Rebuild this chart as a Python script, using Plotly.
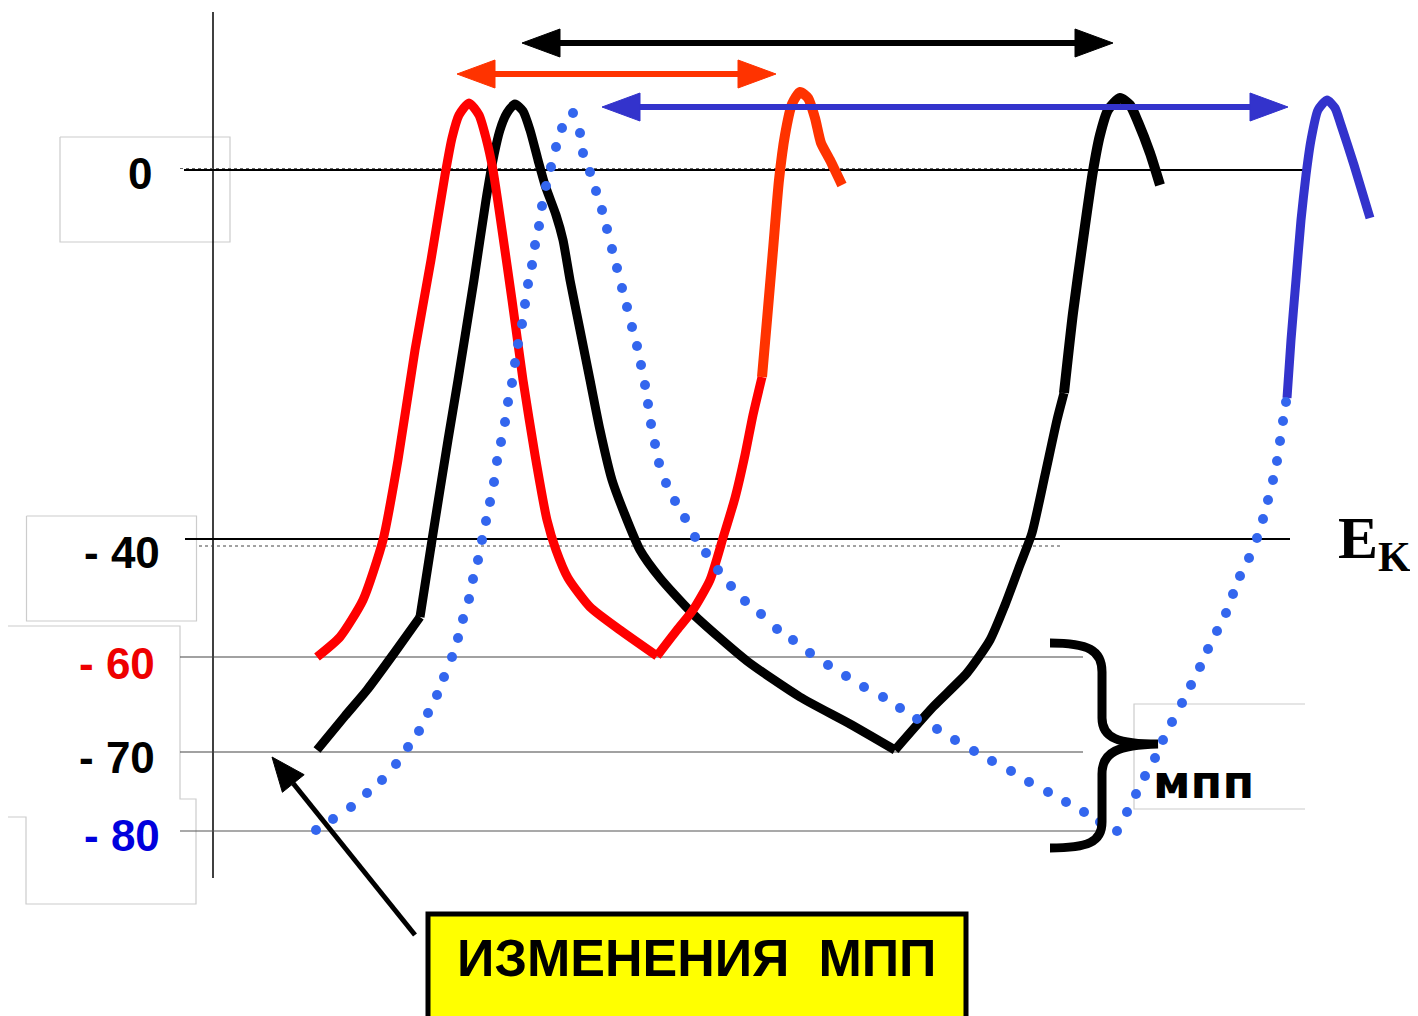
import math
import plotly.graph_objects as go

# ---------------- data ----------------
# vertical scale of the drawing is in screen units (y grows downward)
level_labels = ["0", "- 40", "- 60", "- 70", "- 80"]
level_values = [170, 539, 657, 752, 831]
level_colors = ["#000000", "#000000", "#EE0000", "#000000", "#0000DD"]

# red action potential (resting -60)
red_ap_x = [317, 340, 363, 383, 398, 415, 431, 445, 452, 459, 469, 479, 486, 493, 502, 512, 523, 535, 547, 556, 568, 590, 620, 657]
red_ap_y = [657, 637, 600, 540, 460, 350, 260, 175, 138, 115, 103, 115, 138, 170, 230, 300, 380, 455, 520, 550, 578, 607, 630, 656]
red_rise_x = [657, 677, 693, 710, 723, 735, 745, 753, 762]
red_rise_y = [656, 630, 610, 580, 538, 498, 455, 415, 377]
orange_ap_x = [762, 767, 773, 779, 785, 792, 800, 808, 815, 821, 830, 842]
orange_ap_y = [377, 320, 250, 180, 135, 104, 92, 98, 118, 143, 160, 185]

# black action potential (resting -70)
black_a_x = [317, 345, 367, 395, 420]
black_a_y = [750, 716, 690, 652, 617]
black_b_x = [420, 432, 448, 458, 474, 486, 493, 500, 507, 515, 523, 530, 538, 545, 556, 563, 570, 580, 590, 600, 612, 625, 640, 660, 693, 747, 800, 850, 895]
black_b_y = [617, 540, 440, 380, 280, 200, 160, 130, 113, 104, 111, 130, 160, 185, 215, 240, 280, 330, 380, 430, 480, 515, 550, 578, 614, 661, 697, 724, 750]
black_c_x = [895, 933, 967, 990, 1005, 1020, 1032, 1045, 1057, 1064]
black_c_y = [750, 707, 673, 640, 605, 565, 533, 475, 420, 393]
black_d_x = [1064, 1073, 1083, 1093, 1100, 1108, 1120, 1130, 1138, 1150, 1160]
black_d_y = [393, 313, 240, 171, 135, 110, 98, 105, 122, 153, 185]

# blue (resting -80): dotted part then solid spike
blue_dot_x = [316, 333, 351, 367, 382, 396, 408, 419, 428, 437, 444, 452, 458, 463, 469, 473, 478, 482, 486, 490,
              494, 497, 501, 505, 508, 512, 515, 518, 522, 525, 528, 532, 535, 539, 542, 546, 551, 556, 562, 573,
              580, 583, 590, 596, 602, 607, 612, 617, 622, 627, 632, 637, 641, 645, 648, 651, 655, 659, 666, 675,
              685, 695, 706, 718, 731, 745, 761, 777, 793, 810, 828, 846, 864, 883, 900, 917, 937, 955, 974, 992,
              1011, 1029, 1048, 1066, 1084, 1100, 1117,
              1127, 1136, 1145, 1155, 1163, 1172, 1182, 1191, 1200, 1208, 1217, 1226, 1233, 1240, 1249, 1257, 1263,
              1268, 1273, 1277, 1280, 1283, 1286]
blue_dot_y = [830, 819, 807, 793, 780, 764, 747, 731, 713, 695, 677, 657, 638, 619, 599, 579, 560, 540, 521, 502,
              482, 461, 442, 422, 402, 383, 363, 344, 324, 304, 284, 265, 245, 226, 206, 186, 167, 147, 128, 113,
              133, 153, 172, 191, 210, 229, 249, 268, 288, 307, 327, 346, 365, 385, 404, 424, 444, 463, 483, 501,
              518, 537, 553, 570, 586, 601, 614, 629, 640, 653, 665, 676, 687, 697, 708, 719, 729, 740, 751, 761,
              771, 782, 792, 802, 812, 822, 831,
              812, 794, 776, 758, 740, 722, 703, 685, 667, 649, 631, 613, 594, 576, 558, 538, 519,
              500, 480, 461, 441, 421, 402]
blue_ap_x = [1287, 1291, 1296, 1301, 1306, 1311, 1318, 1327, 1335, 1341, 1354, 1370]
blue_ap_y = [398, 340, 280, 220, 175, 140, 110, 100, 108, 125, 165, 218]

# interval arrows at the top
span_left = [522, 457, 602]
span_right = [1113, 776, 1288]
span_level = [43, 74, 107]
span_colors = ["#000000", "#FF3300", "#3333CC"]

title_text = "ИЗМЕНЕНИЯ  МПП"
mpp_text = "мпп"
ek_text = "E<sub>K</sub>"

# ---------------- figure ----------------
W, H = 1418, 1016
OFF = 8  # page body margin of the html page
FONT = "Liberation Sans"
fig = go.Figure()
shapes = []
annotations = []


def seg(x0, y0, x1, y1, color, width, dash="solid", layer="below"):
    shapes.append(dict(type="line", xref="x", yref="y", x0=x0, y0=y0, x1=x1, y1=y1,
                       line=dict(color=color, width=width, dash=dash), layer=layer))


def poly(points, color, layer="above"):
    d = "M " + " L ".join(f"{px:.1f},{py:.1f}" for px, py in points) + " Z"
    shapes.append(dict(type="path", xref="x", yref="y", path=d, fillcolor=color,
                       line=dict(color=color, width=1), layer=layer))


# label frames (light grey)
box_col = "#CCCCCC"
frames = [
    [(60, 137), (230, 137), (230, 242), (60, 242), (60, 137)],
    [(26.5, 516), (196.5, 516), (196.5, 621), (26.5, 621), (26.5, 516)],
    [(8, 626), (180, 626), (180, 799), (196, 799), (196, 904), (26, 904), (26, 817), (8, 817)],
    [(1305, 704), (1134, 704), (1134, 809), (1305, 809)],
]
for fr in frames:
    d = "M " + " L ".join(f"{px},{py}" for px, py in fr)
    shapes.append(dict(type="path", xref="x", yref="y", path=d,
                       line=dict(color=box_col, width=1.2), layer="below"))

# vertical axis
seg(213, 12, 213, 878, "#000000", 1.5)
# level lines
line_x0 = [184, 185, 180, 180, 180]
line_x1 = [1305, 1290, 1083, 1083, 1100]
line_w = [2, 2, 1.2, 1.2, 1.2]
line_c = ["#000000", "#000000", "#444444", "#444444", "#555555"]
for yv, a, b, w, c in zip(level_values, line_x0, line_x1, line_w, line_c):
    seg(a, yv, b, yv, c, w)
seg(180, level_values[0] - 1.5, 1082, level_values[0] - 1.5, "#666666", 1, dash="dot")
seg(199, level_values[1] + 7, 1063, level_values[1] + 7, "#444444", 1, dash="dot")


# curves
def curve(xs, ys, color, width):
    fig.add_trace(go.Scatter(x=xs, y=ys, mode="lines", hoverinfo="skip",
                             line=dict(color=color, width=width, shape="spline", smoothing=0.6)))


curve(black_a_x, black_a_y, "#000000", 9)
curve(black_b_x, black_b_y, "#000000", 9)
curve(black_c_x, black_c_y, "#000000", 9)
curve(black_d_x, black_d_y, "#000000", 10)
curve(red_ap_x, red_ap_y, "#FF0000", 9)
curve(red_rise_x, red_rise_y, "#FF0000", 9)
curve(orange_ap_x, orange_ap_y, "#FF3300", 10)
curve(blue_ap_x, blue_ap_y, "#3333CC", 9)
fig.add_trace(go.Scatter(x=blue_dot_x, y=blue_dot_y, mode="markers", hoverinfo="skip",
                         marker=dict(color="#3366EE", size=10, line=dict(width=0))))

# interval arrows
HL, HW = 38, 14
for x0, x1, yv, c in zip(span_left, span_right, span_level, span_colors):
    seg(x0 + HL - 2, yv, x1 - HL + 2, yv, c, 6, layer="above")
    poly([(x0, yv), (x0 + HL, yv - HW), (x0 + HL, yv + HW)], c)
    poly([(x1, yv), (x1 - HL, yv - HW), (x1 - HL, yv + HW)], c)

# pointer arrow to the resting levels
tail = (415, 935)
tip = (272, 757)
dx, dy = tip[0] - tail[0], tip[1] - tail[1]
L = math.hypot(dx, dy)
ux, uy = dx / L, dy / L
bx, by = tip[0] - ux * 34, tip[1] - uy * 34
px_, py_ = -uy, ux
seg(tail[0], tail[1], bx, by, "#000000", 5, layer="above")
poly([tip, (bx + px_ * 14, by + py_ * 14), (bx - px_ * 14, by - py_ * 14)], "#000000")

# brace
brace = ("M 1050,643 C 1088,643 1102,650 1102,672 L 1102,718 C 1102,738 1118,744 1158,744 "
         "C 1118,745 1102,752 1102,774 L 1102,822 C 1102,842 1088,848 1050,848")
shapes.append(dict(type="path", xref="x", yref="y", path=brace,
                   line=dict(color="#000000", width=9), layer="above"))

# yellow box
shapes.append(dict(type="rect", xref="x", yref="y", x0=428, x1=966, y0=914, y1=1040,
                   fillcolor="#FFFF00", line=dict(color="#000000", width=5), layer="above"))

# texts
label_right = [154, 162, 157, 157, 162]
label_dy = [3, 13, 6, 5, 4]
for t, yv, c, xr, d in zip(level_labels, level_values, level_colors, label_right, label_dy):
    annotations.append(dict(x=xr, y=yv + d, xref="x", yref="y", text=t, showarrow=False,
                            xanchor="right", yanchor="middle",
                            font=dict(family=FONT, size=44, color=c, weight="bold")))

annotations.append(dict(x=696, y=958, xref="x", yref="y", text=title_text, showarrow=False,
                        xanchor="center", yanchor="middle",
                        font=dict(family=FONT, size=52, color="#000000", weight="bold")))
annotations.append(dict(x=1203, y=782, xref="x", yref="y", text=mpp_text, showarrow=False,
                        xanchor="center", yanchor="middle",
                        font=dict(family="DejaVu Sans", size=46, color="#000000", weight="bold")))
annotations.append(dict(x=1336, y=542, xref="x", yref="y", text=ek_text, showarrow=False,
                        xanchor="left", yanchor="middle",
                        font=dict(family="Liberation Serif", size=60, color="#000000", weight="bold")))

fig.update_layout(
    width=W - OFF, height=H - OFF,
    margin=dict(l=0, r=0, t=0, b=0),
    paper_bgcolor="#FFFFFF", plot_bgcolor="#FFFFFF",
    showlegend=False,
    xaxis=dict(range=[OFF, W], visible=False, fixedrange=True),
    yaxis=dict(range=[H, OFF], visible=False, fixedrange=True),
    shapes=shapes, annotations=annotations,
)

fig.write_html("out.html", config={"displayModeBar": False})
